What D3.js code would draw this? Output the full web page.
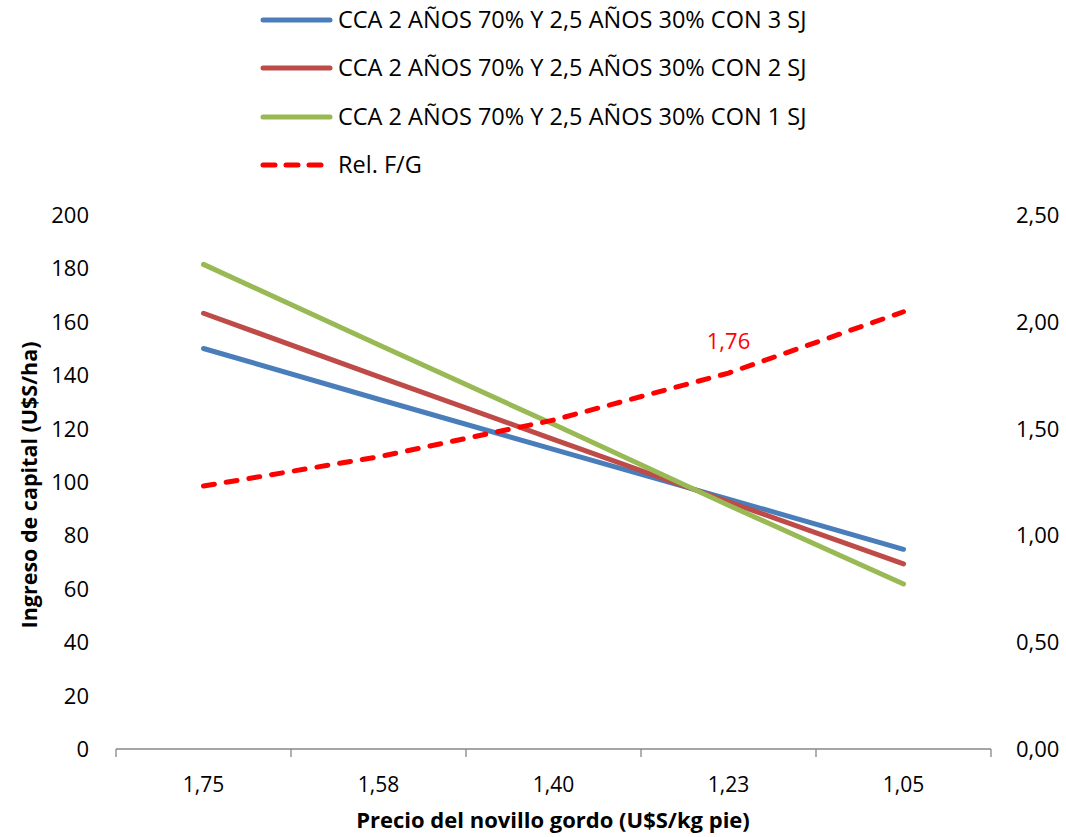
<!DOCTYPE html>
<html lang="es">

<head>
    <meta charset="UTF-8">
    <title>Ingreso de capital vs precio del novillo gordo</title>
    <script src="https://cdn.jsdelivr.net/npm/d3@7/dist/d3.min.js"></script>
    <style>
        body { margin: 0; background: #fff; }
        text { font-family: "Open Sans", "Noto Sans", sans-serif; fill: #000; }
    </style>
</head>

<body>
    <div id="chart"></div>

    <script>
        // categorias del eje x (precio del novillo gordo)
        const categories = ["1,75", "1,58", "1,40", "1,23", "1,05"]

        // series en eje izquierdo (U$S/ha)
        const cca3sj = [150, 131, 112.2, 93.6, 74.8]
        const cca2sj = [163.2, 139.5, 116, 92.6, 69.3]
        const cca1sj = [181.5, 151.4, 121.6, 91.3, 61.8]
        // serie en eje derecho
        const relFG = [1.231, 1.368, 1.54, 1.76, 2.047]

        const seriesNames = [
            "CCA 2 AÑOS 70% Y 2,5 AÑOS 30% CON 3 SJ",
            "CCA 2 AÑOS 70% Y 2,5 AÑOS 30% CON 2 SJ",
            "CCA 2 AÑOS 70% Y 2,5 AÑOS 30% CON 1 SJ",
            "Rel. F/G"
        ]
        const leftTicks = [0, 20, 40, 60, 80, 100, 120, 140, 160, 180, 200]
        const rightTicks = [0, 0.5, 1, 1.5, 2, 2.5]
        // solo se rotula el punto de 1,23
        const labelIndex = 3

        const width = 1066
        const height = 837
        const margin = { top: 215, right: 75, bottom: 88, left: 116 }

        const svg = d3.select("#chart").append("svg")
            .attr("width", width).attr("height", height)

        const x = d3.scaleBand().domain(categories)
            .range([margin.left, width - margin.right])
            .padding(0)
        const yL = d3.scaleLinear().domain([0, 200]).range([height - margin.bottom, margin.top])
        const yR = d3.scaleLinear().domain([0, 2.5]).range([height - margin.bottom, margin.top])

        const es = d3.formatLocale({ decimal: ",", thousands: ".", grouping: [3], currency: ["", ""] })
        const fmt2 = es.format(".2f")

        // eje x
        const xAxis = svg.append("g")
            .attr("transform", `translate(0,${height - margin.bottom})`)
        xAxis.append("line")
            .attr("x1", margin.left).attr("x2", width - margin.right)
            .attr("stroke", "#878787").attr("stroke-width", 1.3)
        const bounds = categories.map(c => x(c)).concat([width - margin.right])
        xAxis.selectAll(".tk").data(bounds).enter().append("line")
            .attr("x1", d => d).attr("x2", d => d)
            .attr("y1", 0).attr("y2", 8)
            .attr("stroke", "#878787").attr("stroke-width", 1.3)
        xAxis.selectAll(".lbl").data(categories).enter().append("text")
            .attr("x", d => x(d) + x.bandwidth() / 2)
            .attr("y", 43)
            .attr("text-anchor", "middle")
            .attr("font-size", "21px")
            .text(d => d)

        // eje izquierdo (solo etiquetas)
        svg.append("g").selectAll("text").data(leftTicks).enter().append("text")
            .attr("x", 89).attr("y", d => yL(d))
            .attr("dy", "0.36em")
            .attr("text-anchor", "end")
            .attr("font-size", "22px")
            .text(d => d)

        // eje derecho (solo etiquetas)
        svg.append("g").selectAll("text").data(rightTicks).enter().append("text")
            .attr("x", 1016).attr("y", d => yR(d))
            .attr("dy", "0.36em")
            .attr("text-anchor", "start")
            .attr("font-size", "22px")
            .text(d => fmt2(d))

        // titulos de ejes
        svg.append("text")
            .attr("transform", `translate(37,485) rotate(-90)`)
            .attr("text-anchor", "middle")
            .attr("font-size", "21.5px").attr("font-weight", "bold")
            .text("Ingreso de capital (U$S/ha)")
        svg.append("text")
            .attr("x", 553).attr("y", 828)
            .attr("text-anchor", "middle")
            .attr("font-size", "22px").attr("font-weight", "bold")
            .text("Precio del novillo gordo (U$S/kg pie)")

        const cx = d => x(d) + x.bandwidth() / 2
        const series = [
            { name: seriesNames[0], values: cca3sj, color: "#4A7EBB", scale: yL, dash: null },
            { name: seriesNames[1], values: cca2sj, color: "#BE4B48", scale: yL, dash: null },
            { name: seriesNames[2], values: cca1sj, color: "#98B954", scale: yL, dash: null },
            { name: seriesNames[3], values: relFG, color: "#FF0000", scale: yR, dash: "11,12" }
        ]

        series.forEach(s => {
            const line = d3.line()
                .x((d, i) => cx(categories[i]))
                .y(d => s.scale(d))
            svg.append("path")
                .datum(s.values)
                .attr("d", line)
                .attr("fill", "none")
                .attr("stroke", s.color)
                .attr("stroke-width", 5)
                .attr("stroke-linecap", "round")
                .attr("stroke-linejoin", "round")
                .attr("stroke-dasharray", s.dash)
        })

        // rotulo de dato
        svg.append("text")
            .attr("x", cx(categories[labelIndex]))
            .attr("y", yR(relFG[labelIndex]) - 32)
            .attr("dy", "0.36em")
            .attr("text-anchor", "middle")
            .attr("font-size", "22px")
            .style("fill", "#FF0000")
            .text(es.format(".2f")(relFG[labelIndex]))

        // leyenda
        const legend = svg.append("g")
        const rowY = [20, 68, 117, 165]
        series.forEach((s, i) => {
            legend.append("line")
                .attr("x1", 263).attr("x2", 330)
                .attr("y1", rowY[i]).attr("y2", rowY[i])
                .attr("stroke", s.color)
                .attr("stroke-width", 5)
                .attr("stroke-linecap", "round")
                .attr("stroke-dasharray", s.dash ? "12,11" : null)
            legend.append("text")
                .attr("x", 338).attr("y", rowY[i])
                .attr("dy", "0.36em")
                .attr("font-size", "23.5px")
                .text(s.name)
        })
    </script>
</body>

</html>
